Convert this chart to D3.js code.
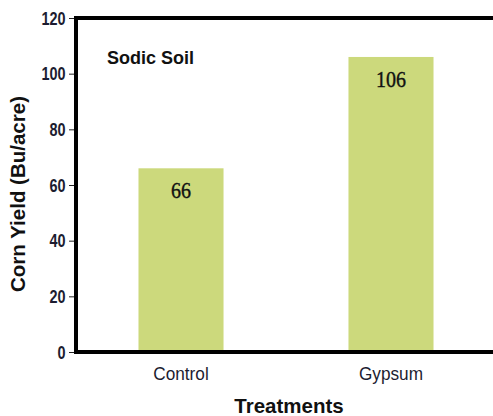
<!DOCTYPE html>
<html>
<head>
<meta charset="utf-8">
<script src="https://cdn.jsdelivr.net/npm/d3@7"></script>
<style>
  html, body { margin: 0; padding: 0; background: #fff; }
  svg { display: block; }
</style>
</head>
<body>
<svg id="chart" width="493" height="416"></svg>
<script>
const categories = ["Control", "Gypsum"];
const yieldValues = [66, 106];
const valueLabels = ["66", "106"];
const yTicks = [0, 20, 40, 60, 80, 100, 120];
const panelTitle = "Sodic Soil";
const xTitle = "Treatments";
const yTitle = "Corn Yield (Bu/acre)";

(function () {
const svg = d3.select("#chart");
const mLeft = 76, mRight = 496, mTop = 18, mBottom = 352;

const x = d3.scaleBand().domain(categories).range([mLeft, mRight])
  .paddingInner(0.595).paddingOuter(0.2976);
const y = d3.scaleLinear().domain([0, 120]).range([mBottom, mTop]);

const sans = "'Liberation Sans', Arial, sans-serif";

// bars
svg.append("g").selectAll("rect").data(categories).join("rect")
  .attr("x", d => x(d))
  .attr("y", (d, i) => y(yieldValues[i]))
  .attr("width", x.bandwidth())
  .attr("height", (d, i) => y(0) - y(yieldValues[i]))
  .attr("fill", "#ccd97c");

// value labels
const vsx = 0.87;
svg.append("g").selectAll("text").data(categories).join("text")
  .attr("transform", (d, i) => `translate(${x(d) + x.bandwidth() / 2},${y(yieldValues[i]) + 30}) scale(${vsx},1)`)
  .attr("text-anchor", "middle")
  .attr("font-family", "'Liberation Serif', 'Times New Roman', serif")
  .attr("font-size", 23)
  .attr("fill", "#111")
  .attr("stroke", "#111").attr("stroke-width", 0.4)
  .text((d, i) => valueLabels[i]);

// y axis
const ysx = 0.76;
const yAxis = d3.axisLeft(y).tickValues(yTicks).tickSize(4).tickPadding(3).tickFormat(d3.format("d"));
const gy = svg.append("g").attr("transform", `translate(${mLeft},0)`).call(yAxis);
gy.select(".domain").remove();
gy.selectAll(".tick line").attr("stroke", "#222").attr("stroke-width", 1)
  .attr("x1", -7).attr("x2", -2);
gy.selectAll(".tick text")
  .attr("x", -10.5 / ysx)
  .attr("transform", `scale(${ysx},1)`)
  .attr("font-family", sans)
  .attr("font-weight", "bold")
  .attr("font-size", 19)
  .attr("fill", "#1c1c30");

// x axis labels
const xAxis = d3.axisBottom(x).tickSize(0).tickPadding(15);
const gx = svg.append("g").attr("transform", `translate(0,${mBottom})`).call(xAxis);
gx.select(".domain").remove();
gx.selectAll(".tick text")
  .attr("transform", "scale(0.93,1)")
  .attr("font-family", sans)
  .attr("font-size", 18.5)
  .attr("fill", "#1c1c30");

// frame lines (left, top, bottom)
svg.append("line").attr("x1", mLeft).attr("x2", mLeft).attr("y1", mTop).attr("y2", mBottom + 2)
  .attr("stroke", "#000").attr("stroke-width", 4);
svg.append("line").attr("x1", mLeft - 2).attr("x2", 493).attr("y1", mTop).attr("y2", mTop)
  .attr("stroke", "#000").attr("stroke-width", 4);
svg.append("line").attr("x1", mLeft - 2).attr("x2", 493).attr("y1", mBottom).attr("y2", mBottom)
  .attr("stroke", "#000").attr("stroke-width", 4);

// panel title
svg.append("text").attr("x", 107).attr("y", 64)
  .attr("font-family", sans)
  .attr("font-weight", "bold").attr("font-size", 18).attr("fill", "#111")
  .text(panelTitle);

// x title
svg.append("text").attr("x", 289).attr("y", 413).attr("text-anchor", "middle")
  .attr("font-family", sans)
  .attr("font-weight", "bold").attr("font-size", 20.5).attr("fill", "#111")
  .text(xTitle);

// y title
svg.append("text").attr("transform", "translate(25,194) rotate(-90)").attr("text-anchor", "middle")
  .attr("font-family", sans)
  .attr("font-weight", "bold").attr("font-size", 20.5).attr("fill", "#111")
  .text(yTitle);
})();
</script>
</body>
</html>
